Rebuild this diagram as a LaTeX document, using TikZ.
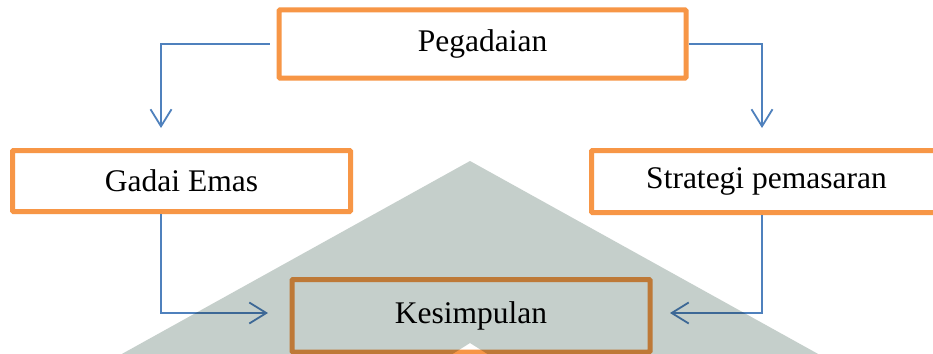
\documentclass[tikz,border=0pt]{standalone}
\usepackage{fontspec}
\setmainfont{Liberation Serif}
\usetikzlibrary{arrows.meta}
\definecolor{boxorange}{HTML}{F79646}
\definecolor{linkblue}{HTML}{4F81BD}
\definecolor{markgrey}{HTML}{C5CFCB}
\tikzset{
  box/.style={draw=boxorange, line width=5pt, fill=white, rounded corners=1pt,
    inner sep=0pt, font=\fontsize{31.5}{36}\selectfont},
  conn/.style={draw=linkblue, line width=1.8pt,
    -{Straight Barb[length=17pt,width=21pt]}}
}
\begin{document}
\begin{tikzpicture}[x=1pt, y=-1pt]
  \fill[white] (0,0) rectangle (933,353);
  \useasboundingbox (0,0) rectangle (933,353);

  % boxes
  \node[box, minimum width=407pt, minimum height=68pt] (peg) at (482.5,44) {Pegadaian};
  \node[box, minimum width=338pt, minimum height=61pt] (gadai) at (181.5,181) {Gadai Emas};
  \node[box, minimum width=350pt, minimum height=62pt] (strat) at (766.5,181.5) {Strategi pemasaran};
  \node[box, minimum width=358pt, minimum height=72.5pt] (kes) at (471,315.75) {Kesimpulan};

  % free arrow ends
  \coordinate (tl) at (161,128);
  \coordinate (tr) at (762,128);
  \coordinate (kl) at (268,313);
  \coordinate (kr) at (670,313);

  % connectors
  \draw[conn, shorten <=7pt] (peg.west) -| (tl);
  \draw[conn] (peg.east) -| (tr);
  \draw[conn] (gadai.south -| tl) |- (kl);
  \draw[conn] (strat.south -| tr) |- (kr);

  % background emblem, multiplied over everything below it
  \fill[markgrey, even odd rule, blend mode=multiply]
    (470,161) -- (829,360) -- (111,360) -- cycle
    (470,343) -- (497,360) -- (443,360) -- cycle;
\end{tikzpicture}
\end{document}
